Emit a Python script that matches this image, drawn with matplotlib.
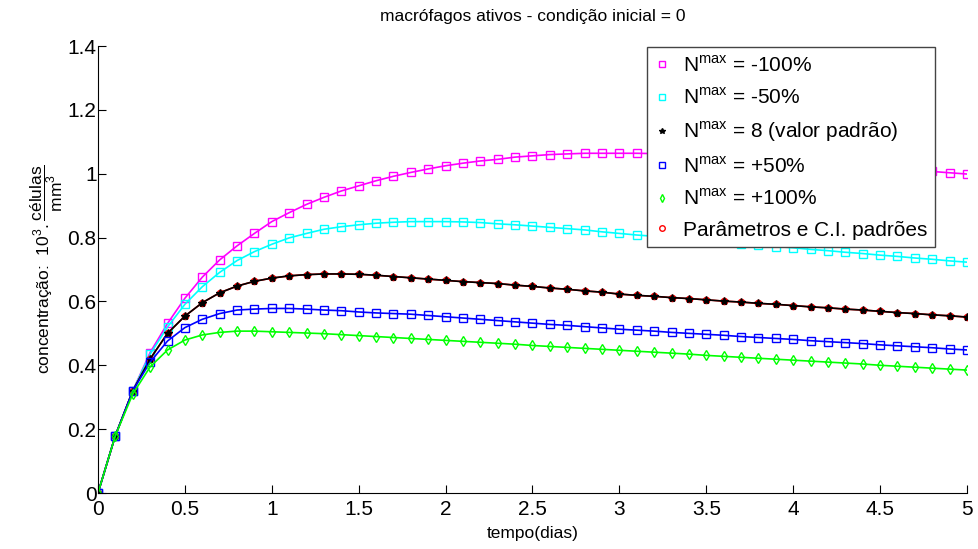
import numpy as np
import matplotlib.pyplot as plt
from matplotlib.lines import Line2D

plt.rcParams['font.family'] = ['Liberation Sans', 'DejaVu Sans']
plt.rcParams['mathtext.fontset'] = 'custom'
plt.rcParams['mathtext.rm'] = 'Liberation Sans'

# tempo (dias), passo 0.1
t = np.round(np.arange(0, 5.01, 0.1), 1)

# N^max = -100%
mag = [0, 0.18, 0.32, 0.44, 0.531, 0.61, 0.676, 0.730, 0.774, 0.813,
       0.850, 0.878, 0.904, 0.926, 0.946, 0.962, 0.978, 0.992, 1.004, 1.015,
       1.025, 1.033, 1.040, 1.045, 1.052, 1.056, 1.060, 1.062, 1.064, 1.064,
       1.064, 1.064, 1.063, 1.062, 1.060, 1.057, 1.054, 1.050, 1.047, 1.043,
       1.039, 1.035, 1.031, 1.027, 1.023, 1.019, 1.015, 1.011, 1.007, 1.003,
       0.999]
# N^max = -50%
cya = [0, 0.18, 0.32, 0.435, 0.52, 0.591, 0.646, 0.691, 0.728, 0.756,
       0.779, 0.799, 0.813, 0.826, 0.834, 0.840, 0.845, 0.848, 0.850, 0.850,
       0.850, 0.849, 0.847, 0.843, 0.840, 0.836, 0.832, 0.828, 0.824, 0.818,
       0.813, 0.808, 0.804, 0.799, 0.795, 0.790, 0.786, 0.781, 0.777, 0.772,
       0.768, 0.763, 0.759, 0.754, 0.750, 0.745, 0.741, 0.736, 0.732, 0.727,
       0.723]
# N^max = 8 (valor padrao)
blk = [0, 0.18, 0.32, 0.42, 0.50, 0.554, 0.596, 0.627, 0.648, 0.663,
       0.673, 0.680, 0.684, 0.686, 0.686, 0.685, 0.682, 0.678, 0.674, 0.670,
       0.666, 0.662, 0.659, 0.656, 0.651, 0.647, 0.642, 0.638, 0.633, 0.629,
       0.623, 0.619, 0.616, 0.612, 0.609, 0.605, 0.601, 0.598, 0.594, 0.591,
       0.587, 0.583, 0.580, 0.576, 0.573, 0.569, 0.565, 0.562, 0.558, 0.555,
       0.551]
# N^max = +50%
blu = [0, 0.18, 0.32, 0.41, 0.476, 0.518, 0.544, 0.562, 0.573, 0.576,
       0.578, 0.578, 0.576, 0.573, 0.571, 0.567, 0.564, 0.562, 0.560, 0.556,
       0.552, 0.548, 0.544, 0.540, 0.536, 0.532, 0.528, 0.525, 0.521, 0.517,
       0.513, 0.510, 0.507, 0.503, 0.500, 0.497, 0.494, 0.490, 0.487, 0.484,
       0.481, 0.477, 0.474, 0.471, 0.468, 0.464, 0.461, 0.458, 0.455, 0.451,
       0.448]
# N^max = +100%
grn = [0, 0.18, 0.31, 0.395, 0.448, 0.479, 0.495, 0.503, 0.507, 0.507,
       0.505, 0.503, 0.501, 0.499, 0.496, 0.493, 0.490, 0.487, 0.484, 0.481,
       0.478, 0.475, 0.472, 0.469, 0.466, 0.462, 0.459, 0.456, 0.453, 0.450,
       0.447, 0.444, 0.441, 0.438, 0.435, 0.431, 0.428, 0.425, 0.422, 0.419,
       0.416, 0.413, 0.410, 0.407, 0.404, 0.400, 0.397, 0.394, 0.391, 0.388,
       0.385]

labels = [r'N$^{\mathrm{max}}$ = -100%', r'N$^{\mathrm{max}}$ = -50%',
          r'N$^{\mathrm{max}}$ = 8 (valor padrão)', r'N$^{\mathrm{max}}$ = +50%',
          r'N$^{\mathrm{max}}$ = +100%', 'Parâmetros e C.I. padrões']

fig = plt.figure(figsize=(9.79, 5.49), dpi=100)
ax = fig.add_axes([0.1001, 0.102, 0.8876, 0.8142])

ax.plot(t, mag, color='#ff00ff', lw=1.2, marker='s', ms=5.5, mfc='none')
ax.plot(t, cya, color='#00ffff', lw=1.2, marker='s', ms=5.5, mfc='none')
ax.plot(t, blk, color='red', lw=1.2, marker='o', ms=4.5, mfc='red')
ax.plot(t, blk, color='black', lw=1.2, marker='*', ms=6)
ax.plot(t, blu, color='#0000ff', lw=1.2, marker='s', ms=5.5, mfc='none')
ax.plot(t, grn, color='#00ff00', lw=1.2, marker='d', ms=5.5, mfc='none')

handles = [Line2D([], [], ls='none', marker='s', color='#ff00ff', mfc='none', ms=4),
           Line2D([], [], ls='none', marker='s', color='#00ffff', mfc='none', ms=4),
           Line2D([], [], ls='none', marker='*', color='black', ms=4),
           Line2D([], [], ls='none', marker='s', color='#0000ff', mfc='none', ms=4),
           Line2D([], [], ls='none', marker='d', color='#00ff00', mfc='none', ms=4),
           Line2D([], [], ls='none', marker='o', color='red', mfc='none', ms=4)]
leg = ax.legend(handles, labels, loc='upper right', bbox_to_anchor=(0.968, 1.006),
                fontsize=15, fancybox=False, edgecolor='#444444', framealpha=1,
                handlelength=0.8, handletextpad=0.6, labelspacing=0.56,
                borderpad=0.35, borderaxespad=0.2)
leg.get_frame().set_linewidth(1.0)

ax.set_xlim(0, 5)
ax.set_ylim(0, 1.4)
ax.set_xticks(np.arange(0, 5.01, 0.5))
ax.set_xticklabels(['0', '0.5', '1', '1.5', '2', '2.5', '3', '3.5', '4', '4.5', '5'])
ax.set_yticks(np.arange(0, 1.41, 0.2))
ax.set_yticklabels(['0', '0.2', '0.4', '0.6', '0.8', '1', '1.2', '1.4'])
ax.tick_params(direction='in', labelsize=15, length=6, pad=1)
ax.tick_params(axis='x', pad=5)
ax.spines['top'].set_visible(False)
ax.spines['right'].set_visible(False)

ax.set_title('macrófagos ativos - condição inicial = 0', fontsize=12.5, pad=18)
ax.set_xlabel('tempo(dias)', fontsize=12.5, labelpad=5)
ax.set_ylabel(r'concentração:  $10^3.\dfrac{\mathrm{células}}{\mathrm{mm}^3}$', fontsize=12.5, labelpad=2)

fig.savefig('out.png', dpi=100)
